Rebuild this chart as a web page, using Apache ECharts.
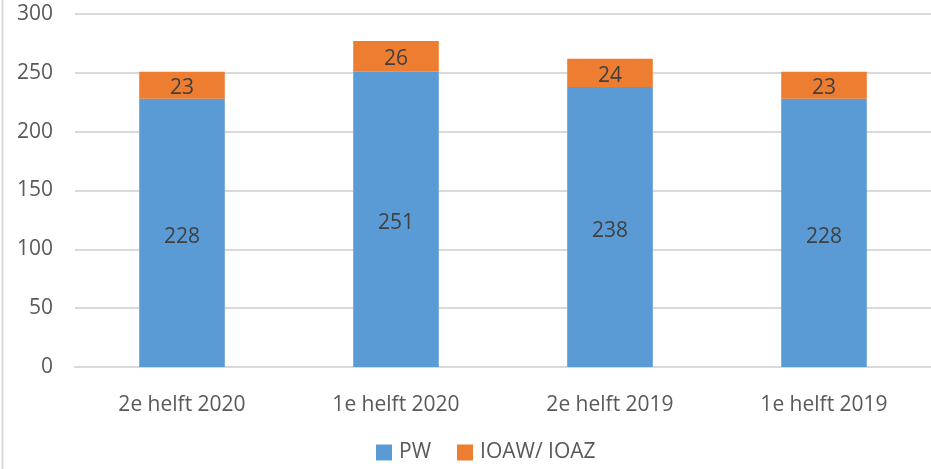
<!DOCTYPE html>
<html>
<head>
<meta charset="utf-8">
<script src="https://cdn.jsdelivr.net/npm/echarts@6/dist/echarts.min.js"></script>
<style>
  html, body { margin: 0; padding: 0; background: #fff; }
  #chart { width: 931px; height: 469px; }
</style>
</head>
<body>
<div id="chart"></div>
<script>
const categories = ['2e helft 2020', '1e helft 2020', '2e helft 2019', '1e helft 2019']
const pwValues = [228, 251, 238, 228]
const ioawValues = [23, 26, 24, 23]

const fontFamily = '"Open Sans", "Liberation Sans", sans-serif'
const myChart = echarts.init(document.getElementById('chart'), null, { renderer: 'canvas' })

myChart.setOption({
  animation: false,
  textStyle: { fontFamily: fontFamily },
  graphic: [
    {
      type: 'line',
      shape: { x1: 2.5, y1: 0, x2: 2.5, y2: 469 },
      style: { stroke: '#d9d9d9', lineWidth: 2 }
    }
  ],
  legend: {
    bottom: 1,
    left: 371,
    itemWidth: 16,
    itemHeight: 16,
    itemGap: 26,
    icon: 'rect',
    textStyle: { fontSize: 21, color: '#595959', fontFamily: fontFamily, padding: [0, 0, 0, 2] },
    data: ['PW', 'IOAW/ IOAZ']
  },
  grid: {
    left: 75,
    top: 14,
    width: 860,
    height: 353,
    containLabel: false
  },
  xAxis: {
    type: 'category',
    data: categories,
    axisLine: { show: true, lineStyle: { color: '#d9d9d9', width: 2 } },
    axisTick: { show: false },
    axisLabel: { fontSize: 21, color: '#595959', margin: 28, fontFamily: fontFamily }
  },
  yAxis: {
    type: 'value',
    min: 0,
    max: 300,
    interval: 50,
    axisLine: { show: false },
    axisTick: { show: false },
    splitLine: { lineStyle: { color: '#d9d9d9', width: 2 } },
    axisLabel: { fontSize: 21, color: '#595959', margin: 22, fontFamily: fontFamily }
  },
  series: [
    {
      name: 'PW',
      type: 'bar',
      stack: 'total',
      barWidth: '40%',
      data: pwValues,
      itemStyle: { color: '#5b9bd5' },
      label: { show: true, position: 'inside', offset: [0, 4], fontSize: 21, color: '#404040', fontFamily: fontFamily }
    },
    {
      name: 'IOAW/ IOAZ',
      type: 'bar',
      stack: 'total',
      barWidth: '40%',
      data: ioawValues,
      itemStyle: { color: '#ed7d31' },
      label: { show: true, position: 'inside', offset: [0, 3], fontSize: 21, color: '#404040', fontFamily: fontFamily }
    }
  ]
})
</script>
</body>
</html>
